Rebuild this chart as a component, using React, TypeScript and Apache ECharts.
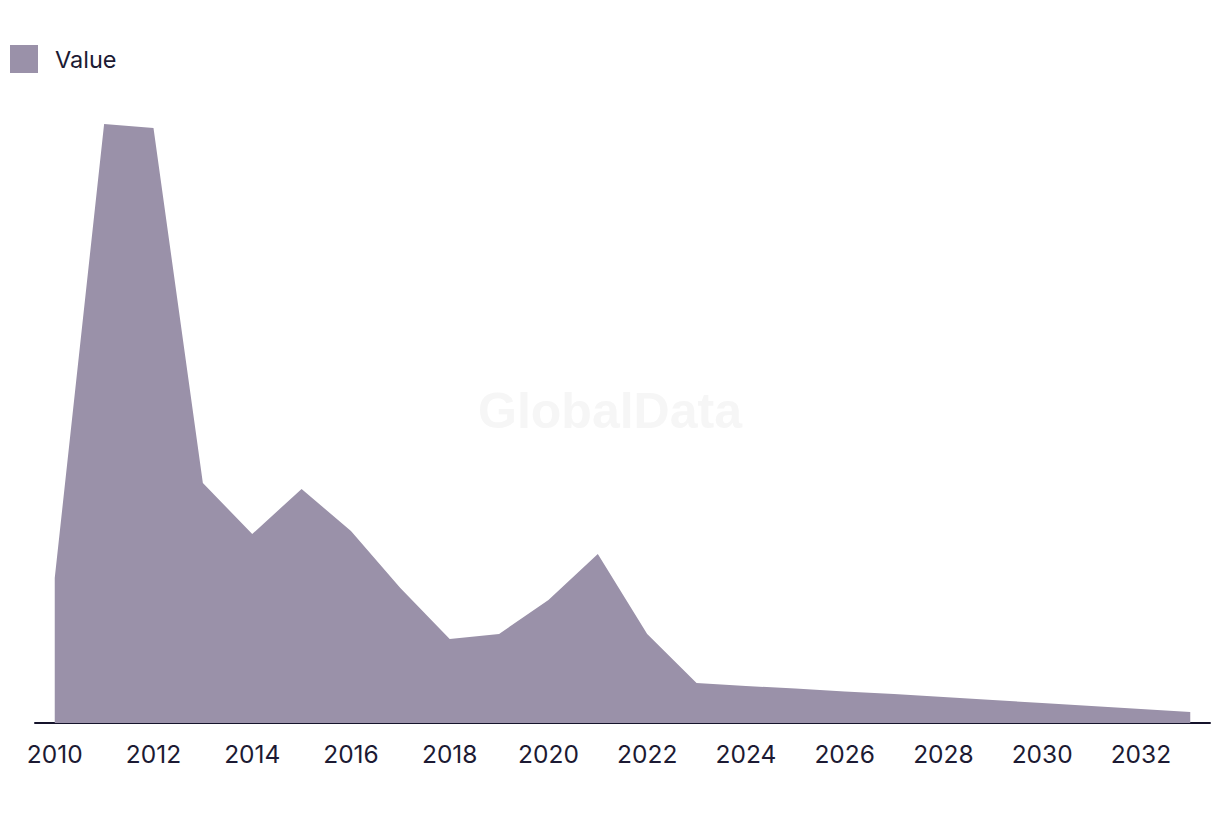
import React, { useEffect, useRef } from "react";
import * as echarts from "echarts";

const years = [2010, 2011, 2012, 2013, 2014, 2015, 2016, 2017, 2018, 2019, 2020, 2021, 2022, 2023, 2024, 2025, 2026, 2027, 2028, 2029, 2030, 2031, 2032, 2033];
const values = [145, 599, 595, 240, 189, 234, 192, 135, 84, 89, 123, 169, 89, 40, 37, 34.5, 31.5, 29, 26, 23, 20, 17, 14, 11];
const tickLabels = [2010, 2012, 2014, 2016, 2018, 2020, 2022, 2024, 2026, 2028, 2030, 2032];
const seriesName = "Value";

const FILL = "#9a91a9";
const TEXT = "#1c1a33";

export default function App() {
  const ref = useRef<HTMLDivElement>(null);
  useEffect(() => {
    if (!ref.current) return;
    const chart = echarts.init(ref.current, null, { renderer: "svg" });
    chart.setOption({
      animation: false,
      backgroundColor: "#ffffff",
      textStyle: { fontFamily: "Inter, 'Noto Sans', sans-serif" },
      legend: {
        left: 5,
        top: 40,
        itemWidth: 28,
        itemHeight: 28,
        icon: "rect",
        data: [seriesName],
        textStyle: { fontSize: 23.5, color: TEXT, padding: [0, 0, 0, 12] },
      },
      graphic: [
        {
          type: "text",
          left: "center",
          top: 386,
          silent: true,
          z: -1,
          style: {
            text: "GlobalData",
            font: "bold 50px 'Liberation Sans', Arial, sans-serif",
            fill: "#f6f6f6",
          },
        },
      ],
      grid: { left: 35, right: 10, top: 73, bottom: 93 },
      xAxis: {
        type: "value",
        min: 2009.6,
        max: 2033.4,
        axisLine: { show: true, onZero: false, lineStyle: { color: "#15132b", width: 2 } },
        axisTick: { show: false },
        splitLine: { show: false },
        axisLabel: {
          customValues: tickLabels,
          fontSize: 24.5,
          color: TEXT,
          margin: 18,
          formatter: (v: number) => String(v),
        },
      },
      yAxis: {
        type: "value",
        min: 0,
        max: 650,
        show: false,
        splitLine: { show: false },
      },
      series: [
        {
          name: seriesName,
          type: "line",
          data: years.map((y, i) => [y, values[i]]),
          symbol: "none",
          lineStyle: { width: 0 },
          itemStyle: { color: FILL },
          areaStyle: { color: FILL, opacity: 1 },
        },
      ],
    });
    return () => chart.dispose();
  }, []);
  return <div ref={ref} style={{ width: 1220, height: 816, position: "absolute", left: 0, top: 0 }} />;
}
